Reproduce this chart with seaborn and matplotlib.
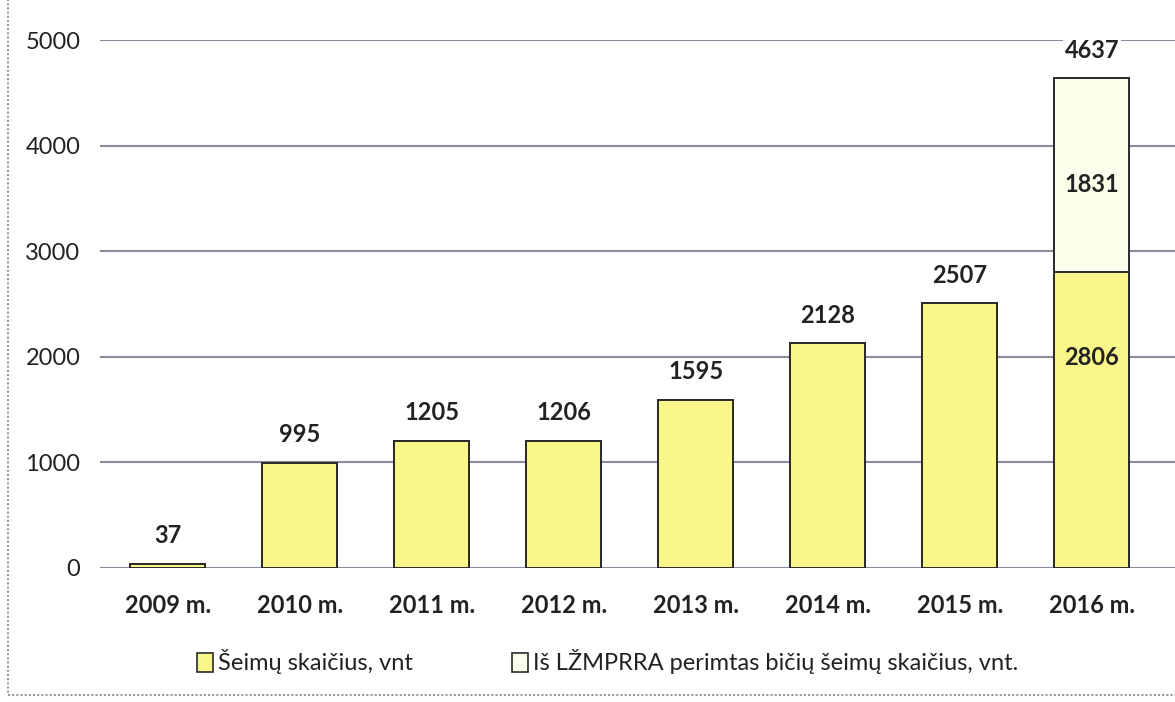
import matplotlib
matplotlib.use("Agg")
import matplotlib.pyplot as plt
import matplotlib.patches as mpatches
import seaborn as sns
import pandas as pd

years = ["2009 m.", "2010 m.", "2011 m.", "2012 m.", "2013 m.", "2014 m.", "2015 m.", "2016 m."]
families = [37, 995, 1205, 1206, 1595, 2128, 2507, 2806]
taken_over = [0, 0, 0, 0, 0, 0, 0, 1831]
totals = [37, 995, 1205, 1206, 1595, 2128, 2507, 4637]
series_names = ["Šeimų skaičius, vnt", "Iš LŽMPRRA perimtas bičių šeimų skaičius, vnt."]

yellow = "#f9f68a"
cream = "#fdfdec"
edge = "#2a2a2a"
text_col = "#222222"

sns.set_theme(style="white")
plt.rcParams["font.family"] = ["Lato", "DejaVu Sans"]

df = pd.DataFrame({"year": years, "families": families, "total": totals})

fig = plt.figure(figsize=(11.75, 7.02), dpi=100)
ax = fig.add_axes([0.085, 0.191, 0.915, 0.752])

# stacked look: draw totals in cream, then base series in yellow over it
sns.barplot(data=df, x="year", y="total", color=cream, width=0.57,
            edgecolor=edge, linewidth=1.4, saturation=1, ax=ax, zorder=3)
sns.barplot(data=df, x="year", y="families", color=yellow, width=0.57,
            edgecolor=edge, linewidth=1.4, saturation=1, ax=ax, zorder=4)

ax.set_ylim(0, 5000)
ax.set_xlim(-0.515, 7.63)
ax.set_yticks([0, 1000, 2000, 3000, 4000, 5000])
ax.yaxis.grid(True, color="#8c8a9c", linewidth=1.5)
ax.set_axisbelow(True)
for s in ax.spines.values():
    s.set_visible(False)
ax.set_xlabel("")
ax.set_ylabel("")
ax.tick_params(axis="y", length=0, pad=14, labelsize=17, labelcolor=text_col)
ax.tick_params(axis="x", length=0, pad=19, labelsize=17, labelcolor=text_col)
for lab in ax.get_xticklabels():
    lab.set_fontweight("bold")

# value labels
for i, v in enumerate(totals):
    ax.annotate(str(v), (i, v), xytext=(0, 12), textcoords="offset points",
                ha="center", va="bottom", fontsize=17, fontweight="bold",
                color=text_col, annotation_clip=False,
                bbox=dict(facecolor="white", edgecolor="none", pad=1) if i == 7 else None)
ax.text(7, 1990, str(families[7]), ha="center", va="center", fontsize=17,
        fontweight="bold", color=text_col, zorder=6)
ax.text(7, 3630, str(taken_over[7]), ha="center",
        va="center", fontsize=17, fontweight="bold", color=text_col, zorder=6)

handles = [mpatches.Patch(facecolor=yellow, edgecolor=edge, linewidth=1.2),
           mpatches.Patch(facecolor=cream, edgecolor=edge, linewidth=1.2)]
fig.legend(handles, series_names, loc="center", bbox_to_anchor=(0.517, 0.057),
           ncol=2, frameon=False, fontsize=17, handlelength=0.7, handleheight=0.9,
           handletextpad=0.2, columnspacing=4.2, labelcolor=text_col)

# page frame from the scan
fig.patches.append(mpatches.Rectangle((8 / 1175, 7 / 702), 1.2, 1.2,
                                      transform=fig.transFigure, fill=False,
                                      edgecolor="#9a9a9a", linewidth=1.5,
                                      linestyle=(0, (1, 1))))

fig.savefig("out.png", dpi=100)
